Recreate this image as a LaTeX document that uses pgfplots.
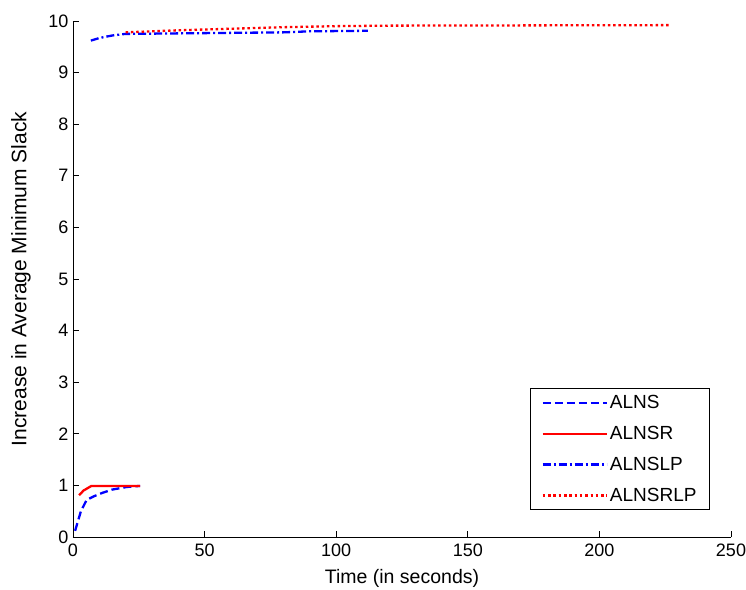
\documentclass[border=0pt]{standalone}
\usepackage{pgfplots}
\pgfplotsset{compat=1.18}
\usepackage{fontspec}
\setmainfont{Liberation Sans}
\begin{document}
\begin{tikzpicture}
\useasboundingbox (-73pt,-52pt) rectangle (673pt,537pt);
\begin{axis}[
  at={(0,0)}, anchor=south west,
  scale only axis, width=658pt, height=516pt,
  xmin=0, xmax=250, ymin=0, ymax=10,
  axis x line*=bottom, axis y line*=left,
  axis line style={-, line width=0.8pt},
  tick align=inside, major tick length=6pt,
  tick style={line width=0.8pt, black},
  xtick={0,50,100,150,200,250},
  ytick={0,1,2,3,4,5,6,7,8,9,10},
  /pgf/number format/assume math mode=true,
  tick label style={font=\fontsize{18}{20}\selectfont},
  xticklabel style={yshift=-3pt},
  yticklabel style={xshift=-1pt},
  xlabel={Time (in seconds)},
  ylabel={Increase in Average Minimum Slack},
  xlabel style={font=\fontsize{19.5}{22}\selectfont, at={(axis description cs:0.5,0)}, anchor=center, yshift=-41pt},
  ylabel style={font=\fontsize{21}{23}\selectfont, at={(axis description cs:0,0.5)}, anchor=center, yshift=52pt},
  legend style={at={(0.968,0.052)}, anchor=south east, draw=black, line width=0.8pt,
    font=\fontsize{19}{21}\selectfont, row sep=12pt, inner xsep=11pt, inner ysep=5pt},
  legend cell align=left,
  legend image code/.code={\path (0pt,0pt) -- (64pt,0pt); \draw[#1] (0pt,0pt) -- (56pt,0pt);},
]
\addplot[blue, line width=2.3pt, dash pattern=on 8pt off 4pt] coordinates {
 (0.8,0.12) (3,0.5) (5.2,0.72) (8,0.79) (11.4,0.86) (15,0.92) (20.5,0.97) (25.5,0.99)};
\addlegendentry{ALNS}
\addplot[red, line width=2.3pt] coordinates {
 (2.3,0.81) (4,0.9) (7,0.99) (12,0.99) (25.5,0.99)};
\addlegendentry{ALNSR}
\addplot[blue, line width=2.3pt, dash pattern=on 8pt off 3pt on 2pt off 3pt] coordinates {
 (6.8,9.62) (10,9.67) (15,9.72) (20,9.75) (40,9.76) (60,9.77) (80,9.78) (90,9.8) (112,9.81)};
\addlegendentry{ALNSLP}
\addplot[red, line width=2.3pt, dash pattern=on 2.5pt off 2.8pt] coordinates {
 (20,9.78) (40,9.82) (60,9.85) (80,9.88) (100,9.9) (120,9.91) (227,9.92)};
\addlegendentry{ALNSRLP}
\end{axis}
\end{tikzpicture}
\end{document}
